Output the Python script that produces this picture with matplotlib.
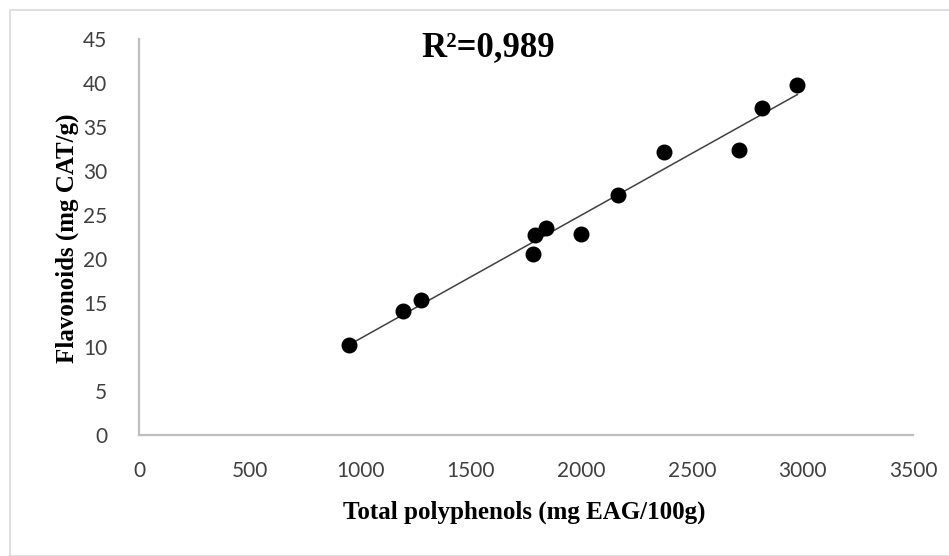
import numpy as np
import matplotlib
matplotlib.use("Agg")
import matplotlib.pyplot as plt
from matplotlib.patches import Rectangle

# Data
polyphenols = [950, 1195, 1277, 1782, 1791, 1841, 2000, 2164, 2373, 2714, 2818, 2977]
flavonoids = [10.2, 14.1, 15.3, 20.6, 22.7, 23.5, 22.8, 27.3, 32.2, 32.4, 37.2, 39.8]
x_ticks = [0, 500, 1000, 1500, 2000, 2500, 3000, 3500]
y_ticks = [0, 5, 10, 15, 20, 25, 30, 35, 40, 45]
r2_text = "R²=0,989"

W, H = 949, 556
fig = plt.figure(figsize=(W / 100, H / 100), dpi=100)

# light frame around the chart area
fig.patches.append(Rectangle((10 / W, 0), 1, 1 - 10 / H, transform=fig.transFigure,
                             fill=False, edgecolor="#d9d9d9", linewidth=1.2))

left, right, bottom, top = 139, 913, 435, 39
ax = fig.add_axes([left / W, 1 - bottom / H, (right - left) / W, (bottom - top) / H])

# linear trend line
slope, intercept = np.polyfit(polyphenols, flavonoids, 1)
xs = np.array([min(polyphenols), max(polyphenols)])
ax.plot(xs, slope * xs + intercept, color="#404040", linewidth=1.1, zorder=2)

ax.scatter(polyphenols, flavonoids, s=110, color="black", zorder=3)

ax.set_xlim(0, 3500)
ax.set_ylim(0, 45)
ax.set_xticks(x_ticks)
ax.set_yticks(y_ticks)
ax.tick_params(length=0, labelsize=15, labelcolor="#404040")
ax.tick_params(axis="x", pad=19)
ax.tick_params(axis="y", pad=23)
for lab in ax.get_xticklabels() + ax.get_yticklabels():
    lab.set_family("Lato")

for side in ["top", "right"]:
    ax.spines[side].set_visible(False)
for side in ["left", "bottom"]:
    ax.spines[side].set_color("#bfbfbf")
    ax.spines[side].set_linewidth(1.6)

serif = "Liberation Serif"
fig.text(524 / W, 1 - 512 / H, "Total polyphenols (mg EAG/100g)", ha="center", va="center",
         family=serif, fontweight="bold", fontsize=18)
fig.text(67 / W, 1 - 238 / H, "Flavonoids (mg CAT/g)", ha="center", va="center", rotation=90,
         family=serif, fontweight="bold", fontsize=18)
fig.text(488 / W, 1 - 48 / H, r2_text, ha="center", va="center",
         family=serif, fontweight="bold", fontsize=25)

fig.savefig("out.png", dpi=100)
